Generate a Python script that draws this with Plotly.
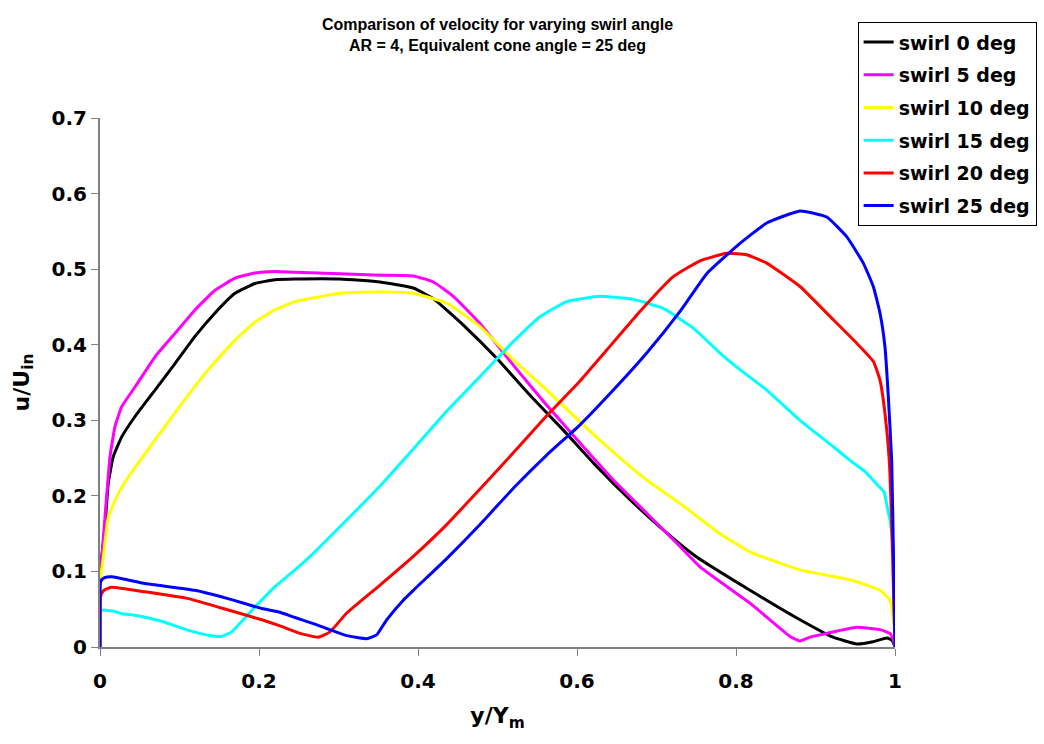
import plotly.graph_objects as go

# Velocity profiles u/U_in across the normalised width y/Y_m, one per swirl angle.
swirl_labels = ["swirl 0 deg", "swirl 5 deg", "swirl 10 deg",
                "swirl 15 deg", "swirl 20 deg", "swirl 25 deg"]
line_colors = ["#000000", "#FF00FF", "#FFFF00", "#00FFFF", "#FF0000", "#0000FF"]

x_swirl0 = [0.0, 0.0013, 0.0063, 0.0104, 0.0167, 0.0273, 0.044, 0.0692, 0.0943, 0.1195,
            0.1447, 0.1698, 0.195, 0.2201, 0.2453, 0.3019, 0.3522, 0.3941, 0.4192, 0.457,
            0.499, 0.5409, 0.5828, 0.6248, 0.6667, 0.7085, 0.7506, 0.8176, 0.8805, 0.922,
            0.9522, 0.9723, 0.9899, 0.9962, 1.0]
u_swirl0 = [0.085, 0.11, 0.16, 0.217, 0.252, 0.278, 0.305, 0.34, 0.375, 0.411,
            0.442, 0.468, 0.481, 0.486, 0.487, 0.487, 0.483, 0.475, 0.461, 0.426,
            0.382, 0.333, 0.287, 0.239, 0.195, 0.155, 0.119, 0.075, 0.036, 0.013,
            0.004, 0.007, 0.012, 0.009, 0.0]

x_swirl5 = [0.0, 0.0021, 0.0063, 0.0126, 0.0189, 0.0273, 0.044, 0.0692, 0.0943, 0.1195,
            0.1447, 0.1698, 0.195, 0.2201, 0.2453, 0.3019, 0.3522, 0.3941, 0.4192, 0.4444,
            0.478, 0.5199, 0.5619, 0.6038, 0.6457, 0.6877, 0.7296, 0.7547, 0.8176, 0.8679,
            0.8805, 0.8931, 0.9141, 0.9518, 0.9811, 0.9937, 0.9979, 1.0]
u_swirl5 = [0.09, 0.115, 0.172, 0.252, 0.292, 0.318, 0.344, 0.384, 0.415, 0.446,
            0.472, 0.488, 0.495, 0.497, 0.496, 0.494, 0.492, 0.491, 0.483, 0.464,
            0.428, 0.373, 0.32, 0.27, 0.221, 0.177, 0.133, 0.106, 0.058, 0.014,
            0.008, 0.013, 0.018, 0.026, 0.023, 0.018, 0.009, 0.0]

x_swirl10 = [0.0, 0.0042, 0.0104, 0.0230, 0.0356, 0.0692, 0.1028, 0.1362, 0.1698, 0.195,
             0.2201, 0.2453, 0.3019, 0.3522, 0.3941, 0.4361, 0.478, 0.5199, 0.5619, 0.6038,
             0.6457, 0.6877, 0.7296, 0.7799, 0.8176, 0.8805, 0.9434, 0.9811, 0.9937, 0.9975, 1.0]
u_swirl10 = [0.085, 0.119, 0.172, 0.203, 0.225, 0.274, 0.322, 0.367, 0.406, 0.43,
             0.446, 0.457, 0.468, 0.47, 0.468, 0.455, 0.424, 0.38, 0.34, 0.298,
             0.258, 0.221, 0.19, 0.15, 0.126, 0.102, 0.089, 0.075, 0.062, 0.04, 0.0]

x_swirl15 = [0.0, 0.0006, 0.0021, 0.0189, 0.0273, 0.044, 0.0776, 0.1111, 0.1405, 0.1531,
             0.1657, 0.195, 0.2201, 0.2453, 0.2683, 0.3103, 0.3522, 0.3941, 0.4361, 0.478,
             0.5199, 0.5535, 0.5871, 0.6289, 0.6708, 0.7085, 0.7463, 0.7799, 0.805, 0.8386,
             0.8805, 0.9224, 0.9434, 0.9623, 0.9774, 0.9862, 0.9912, 0.9937, 0.9975, 1.0]
u_swirl15 = [0.0, 0.049, 0.049, 0.047, 0.044, 0.042, 0.034, 0.022, 0.015, 0.014,
             0.02, 0.053, 0.08, 0.102, 0.124, 0.168, 0.213, 0.262, 0.312, 0.358,
             0.404, 0.437, 0.457, 0.464, 0.46, 0.448, 0.422, 0.389, 0.367, 0.34,
             0.3, 0.265, 0.247, 0.232, 0.215, 0.205, 0.18, 0.168, 0.128, 0.0]

x_swirl20 = [0.0, 0.0006, 0.0021, 0.0063, 0.0147, 0.0566, 0.1111, 0.1614, 0.2034, 0.2264,
             0.2516, 0.2746, 0.2893, 0.3103, 0.3522, 0.3941, 0.4361, 0.478, 0.5199, 0.5619,
             0.6038, 0.6374, 0.6792, 0.7211, 0.7547, 0.7883, 0.8134, 0.8386, 0.8805, 0.9224,
             0.9518, 0.9727, 0.9811, 0.9874, 0.9928, 0.9962, 1.0]
u_swirl20 = [0.0, 0.065, 0.071, 0.076, 0.079, 0.073, 0.064, 0.049, 0.036, 0.028,
             0.018, 0.013, 0.02, 0.045, 0.082, 0.12, 0.162, 0.209, 0.257, 0.306,
             0.352, 0.393, 0.444, 0.49, 0.511, 0.521, 0.519, 0.508, 0.477, 0.433,
             0.402, 0.378, 0.353, 0.309, 0.247, 0.15, 0.0]

x_swirl25 = [0.0, 0.0006, 0.0021, 0.0063, 0.0147, 0.0566, 0.1195, 0.1610, 0.2034, 0.2264,
             0.2453, 0.2683, 0.3103, 0.3354, 0.3480, 0.3606, 0.3815, 0.3941, 0.4361, 0.478,
             0.5199, 0.5619, 0.6038, 0.6457, 0.6877, 0.7296, 0.7632, 0.805, 0.8386, 0.8805,
             0.9141, 0.9392, 0.9601, 0.9727, 0.9811, 0.9874, 0.9916, 0.9958, 0.9981, 1.0]
u_swirl25 = [0.0, 0.085, 0.089, 0.092, 0.093, 0.084, 0.075, 0.064, 0.051, 0.046,
             0.039, 0.031, 0.015, 0.011, 0.016, 0.036, 0.062, 0.075, 0.117, 0.162,
             0.21, 0.254, 0.294, 0.34, 0.389, 0.444, 0.494, 0.534, 0.561, 0.577,
             0.569, 0.543, 0.508, 0.477, 0.442, 0.397, 0.331, 0.247, 0.12, 0.0]

x_tick_vals = [0, 0.2, 0.4, 0.6, 0.8, 1]
x_tick_text = ["0", "0.2", "0.4", "0.6", "0.8", "1"]
y_tick_vals = [0, 0.1, 0.2, 0.3, 0.4, 0.5, 0.6, 0.7]
y_tick_text = ["0", "0.1", "0.2", "0.3", "0.4", "0.5", "0.6", "0.7"]

series = [
    (x_swirl0, u_swirl0), (x_swirl5, u_swirl5), (x_swirl10, u_swirl10),
    (x_swirl15, u_swirl15), (x_swirl20, u_swirl20), (x_swirl25, u_swirl25),
]

TITLE_FONT = "Liberation Sans, Arial, sans-serif"
FONT = "DejaVu Sans, sans-serif"

fig = go.Figure()
for (xs, us), name, color in zip(series, swirl_labels, line_colors):
    fig.add_trace(go.Scatter(
        x=xs, y=us, mode="lines", name=name,
        legendgroup=name,
        line=dict(color=color, width=3, shape="spline", smoothing=0.4),
    ))

axis_common = dict(
    showgrid=False, zeroline=False,
    showline=True, linecolor="#808080", linewidth=2,
    ticks="outside", ticklen=7, tickcolor="#808080", tickwidth=1,
    tickfont=dict(size=20, family=FONT, weight="bold", color="black"),
)

fig.update_layout(
    width=1044, height=744,
    margin=dict(l=100, r=149, t=118, b=97, autoexpand=False),
    paper_bgcolor="white", plot_bgcolor="white",
    font=dict(family=FONT, color="black"),
    title=dict(
        text="Comparison of velocity for varying swirl angle<br>AR = 4, Equivalent cone angle = 25 deg",
        x=(100 + 795 / 2) / 1044, xanchor="center",
        y=1 - 30 / 744, yanchor="middle",
        font=dict(size=16, family=TITLE_FONT, weight="bold", color="black"),
    ),
    showlegend=True,
    legend=dict(
        x=0.953, xanchor="left", y=1.181, yanchor="top",
        bordercolor="black", borderwidth=1, bgcolor="white",
        font=dict(size=19, family=FONT, weight="bold", color="black"),
        tracegroupgap=5,
        itemwidth=30,
    ),
    xaxis=dict(
        range=[0, 1], tickvals=x_tick_vals, ticktext=x_tick_text,
        ticklabelstandoff=8,
        title=dict(text="y/Y<sub>m</sub>", standoff=16,
                   font=dict(size=22, family=FONT, weight="bold", color="black")),
        **axis_common,
    ),
    yaxis=dict(
        range=[0, 0.7], tickvals=y_tick_vals, ticktext=y_tick_text,
        title=dict(text="u/U<sub>in</sub>", standoff=16,
                   font=dict(size=22, family=FONT, weight="bold", color="black")),
        **axis_common,
    ),
)

fig.write_html("out.html")
